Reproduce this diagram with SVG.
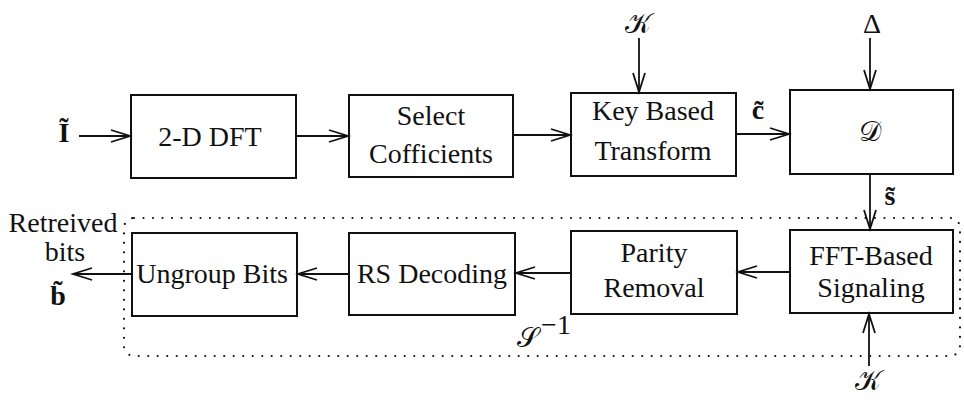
<svg xmlns="http://www.w3.org/2000/svg" width="964" height="401" viewBox="0 0 964 401">
<style>
.box{fill:#fff;stroke:#111;stroke-width:2}
.lbl{font-family:"Liberation Serif","Times New Roman",serif;font-size:28px;fill:#111;text-anchor:middle}
.math{font-family:"Liberation Serif","DejaVu Serif",serif;font-size:28px;fill:#111;text-anchor:middle}
.bold{font-weight:bold}
.con{stroke:#111;stroke-width:1.8;fill:none;marker-end:url(#ah)}
.dot{fill:none;stroke:#111;stroke-width:2.2;stroke-linecap:round;stroke-dasharray:0 9.5}
</style>
<defs>
<marker id="ah" markerUnits="userSpaceOnUse" markerWidth="24" markerHeight="16" refX="20" refY="7" orient="auto">
<path d="M1,1 L20,7 L1,13" fill="none" stroke="#111" stroke-width="1.8"/>
</marker>
</defs>
<rect x="124" y="218" width="836" height="138" rx="10" class="dot"/>
<g id="n-dft"><rect x="131" y="95" width="165" height="83" class="box"/><text x="210" y="146" class="lbl">2-D DFT</text></g>
<g id="n-select"><rect x="349" y="95" width="164" height="82" class="box"/><text x="431" y="125" class="lbl">Select</text><text x="431" y="163" class="lbl">Cofficients</text></g>
<g id="n-key"><rect x="571" y="93" width="165" height="83" class="box"/><text x="653" y="120" class="lbl">Key Based</text><text x="653" y="160" class="lbl">Transform</text></g>
<g id="n-d"><rect x="790" y="90" width="163" height="84" class="box"/><text x="870" y="141" class="math">𝒟</text></g>
<g id="n-fft"><rect x="790" y="230" width="163" height="83" class="box"/><text x="871" y="265" class="lbl">FFT-Based</text><text x="871" y="297" class="lbl">Signaling</text></g>
<g id="n-parity"><rect x="571" y="231" width="166" height="83" class="box"/><text x="654" y="262" class="lbl">Parity</text><text x="654" y="297" class="lbl">Removal</text></g>
<g id="n-rs"><rect x="349" y="233" width="166" height="82" class="box"/><text x="432" y="283" class="lbl">RS Decoding</text></g>
<g id="n-ungroup"><rect x="132" y="233" width="165" height="83" class="box"/><text x="212" y="283" class="lbl">Ungroup Bits</text></g>
<g id="labels">
<text x="64" y="142" class="math bold">I&#771;</text>
<text x="758" y="119" class="math bold">c&#771;</text>
<text x="890" y="205" class="math bold">s&#771;</text>
<text x="638" y="33" class="math">𝒦</text>
<text x="872" y="33" class="math">Δ</text>
<text x="868" y="390" class="math">𝒦</text>
<text x="63" y="232" class="lbl" font-size="25">Retreived</text>
<text x="65" y="261" class="lbl" font-size="25">bits</text>
<text x="58" y="305" class="math bold">b&#771;</text>
<text x="528" y="347" class="math">𝒮</text>
<text x="556" y="334" class="lbl" font-size="19">−1</text>
</g>
<g id="connectors">
<line x1="79" y1="136" x2="130" y2="136" class="con"/>
<line x1="296" y1="136" x2="348" y2="136" class="con"/>
<line x1="513" y1="135" x2="570" y2="135" class="con"/>
<line x1="736" y1="134" x2="789" y2="134" class="con"/>
<line x1="639" y1="38" x2="639" y2="92" class="con"/>
<line x1="870" y1="38" x2="870" y2="89" class="con"/>
<line x1="870" y1="174" x2="870" y2="229" class="con"/>
<line x1="869" y1="366" x2="869" y2="314" class="con"/>
<line x1="790" y1="272" x2="738" y2="272" class="con"/>
<line x1="571" y1="273" x2="516" y2="273" class="con"/>
<line x1="349" y1="274" x2="298" y2="274" class="con"/>
<line x1="131" y1="274" x2="73" y2="274" class="con"/>
</g>
</svg>
